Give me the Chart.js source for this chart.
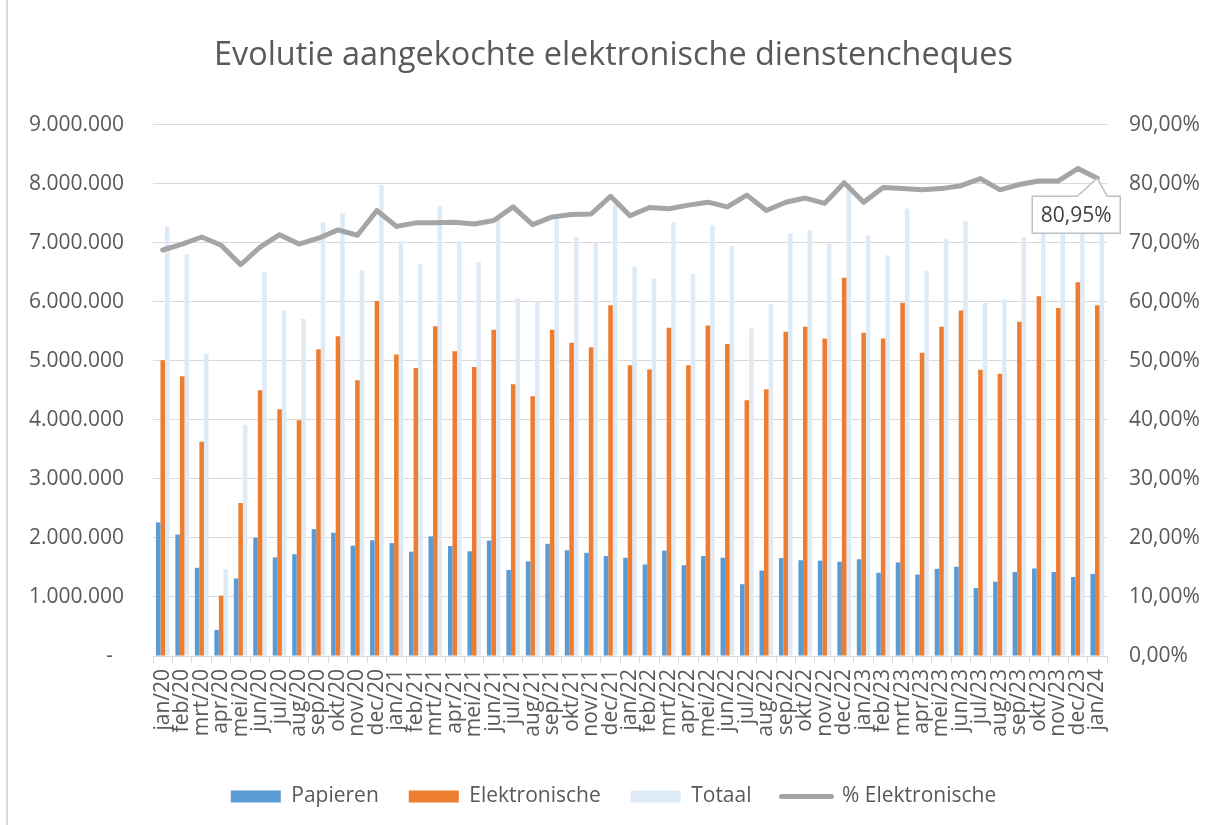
<!DOCTYPE html>
<html>
<head>
<meta charset="utf-8">
<script src="https://cdn.jsdelivr.net/npm/chart.js@4.4.1/dist/chart.umd.min.js"></script>
<style>
    html, body { margin: 0; padding: 0; background: #fff; }
    #wrap { position: relative; width: 1213px; height: 825px; }
    #frame { position: absolute; left: 6px; top: 0; bottom: 0; width: 2px; background: #d9d9d9; }
</style>
</head>
<body>
<div id="wrap">
    <div id="frame"></div>
    <canvas id="chart"></canvas>
</div>
<script>
const months = [
    'jan/20', 'feb/20', 'mrt/20', 'apr/20', 'mei/20', 'jun/20', 'jul/20', 'aug/20', 'sep/20', 'okt/20', 'nov/20', 'dec/20',
    'jan/21', 'feb/21', 'mrt/21', 'apr/21', 'mei/21', 'jun/21', 'jul/21', 'aug/21', 'sep/21', 'okt/21', 'nov/21', 'dec/21',
    'jan/22', 'feb/22', 'mrt/22', 'apr/22', 'mei/22', 'jun/22', 'jul/22', 'aug/22', 'sep/22', 'okt/22', 'nov/22', 'dec/22',
    'jan/23', 'feb/23', 'mrt/23', 'apr/23', 'mei/23', 'jun/23', 'jul/23', 'aug/23', 'sep/23', 'okt/23', 'nov/23', 'dec/23',
    'jan/24'
];

const papieren = [
    2264000, 2058000, 1495000, 442000, 1314000, 2004000, 1671000, 1725000, 2149000, 2088000, 1870000, 1961000,
    1913000, 1768000, 2028000, 1864000, 1774000, 1955000, 1459000, 1604000, 1901000, 1792000, 1749000, 1695000,
    1665000, 1550000, 1786000, 1538000, 1695000, 1665000, 1217000, 1447000, 1659000, 1622000, 1616000, 1598000,
    1640000, 1410000, 1586000, 1380000, 1477000, 1513000, 1150000, 1259000, 1423000, 1483000, 1423000, 1338000,
    1392000
];

const elektronisch = [
    5012000, 4740000, 3632000, 1023000, 2591000, 4504000, 4183000, 3995000, 5200000, 5418000, 4673000, 6017000,
    5109000, 4879000, 5587000, 5163000, 4897000, 5527000, 4607000, 4401000, 5527000, 5309000, 5230000, 5944000,
    4927000, 4855000, 5563000, 4927000, 5599000, 5285000, 4334000, 4522000, 5496000, 5581000, 5381000, 6410000,
    5478000, 5381000, 5987000, 5139000, 5581000, 5854000, 4849000, 4782000, 5666000, 6096000, 5896000, 6332000,
    5944000
];

const totaal = [
    7276000, 6810000, 5120000, 1470000, 3920000, 6510000, 5860000, 5710000, 7350000, 7510000, 6540000, 7980000,
    7028000, 6646000, 7621000, 7028000, 6671000, 7397000, 6059000, 6005000, 7397000, 7101000, 7004000, 7645000,
    6598000, 6398000, 7349000, 6471000, 7300000, 6949000, 5551000, 5963000, 7161000, 7216000, 6992000, 8000000,
    7130000, 6790000, 7585000, 6520000, 7064000, 7367000, 5981000, 6047000, 7095000, 7580000, 7320000, 7670000,
    7340000
];

const pctElektronisch = [
    68.8, 69.8, 71.0, 69.6, 66.3, 69.3, 71.4, 69.8, 70.8, 72.2, 71.3, 75.5,
    72.8, 73.4, 73.4, 73.5, 73.2, 73.8, 76.1, 73.1, 74.4, 74.8, 74.9, 77.9,
    74.6, 76.0, 75.8, 76.4, 76.9, 76.1, 78.1, 75.5, 76.9, 77.6, 76.7, 80.2,
    76.9, 79.4, 79.2, 79.0, 79.2, 79.7, 80.9, 79.0, 79.9, 80.5, 80.5, 82.6,
    80.95
];

const textColor = '#595959';
const gridColor = '#d9d9d9';
const fontFamily = '"Open Sans", "Noto Sans", sans-serif';

function formatThousands(v) {
    if (v === 0) {
        return '-  ';
    }
    return String(v).replace(/\B(?=(\d{3})+(?!\d))/g, '.');
}

function formatPct(v) {
    return v.toFixed(2).replace('.', ',') + '%';
}

// callout with the value of the last point of the % line
const lastLabelPlugin = {
    id: 'lastLabel',
    afterDatasetsDraw(chart) {
        const meta = chart.getDatasetMeta(3);
        const pt = meta.data[meta.data.length - 1];
        if (!pt) {
            return;
        }
        const ctx = chart.ctx;
        const text = formatPct(pctElektronisch[pctElektronisch.length - 1]);
        const bx = pt.x - 65, by = pt.y + 18, bw = 88, bh = 37;
        ctx.save();
        ctx.beginPath();
        ctx.moveTo(bx, by);
        ctx.lineTo(pt.x - 20, by);
        ctx.lineTo(pt.x, pt.y);
        ctx.lineTo(pt.x + 10, by);
        ctx.lineTo(bx + bw, by);
        ctx.lineTo(bx + bw, by + bh);
        ctx.lineTo(bx, by + bh);
        ctx.closePath();
        ctx.fillStyle = '#ffffff';
        ctx.fill();
        ctx.strokeStyle = '#bfbfbf';
        ctx.lineWidth = 1.5;
        ctx.stroke();
        ctx.fillStyle = '#404040';
        ctx.font = '21px ' + fontFamily;
        ctx.textAlign = 'center';
        ctx.textBaseline = 'middle';
        ctx.fillText(text, bx + bw / 2, by + bh / 2 + 1);
        ctx.restore();
    }
};

const ctx = document.getElementById('chart').getContext('2d');
const chart = new Chart(ctx, {
    type: 'bar',
    data: {
        labels: months,
        datasets: [
            {
                label: 'Papieren',
                data: papieren,
                backgroundColor: '#5b9bd5',
                order: 1,
                yAxisID: 'y'
            },
            {
                label: 'Elektronische',
                data: elektronisch,
                backgroundColor: '#ed7d31',
                order: 2,
                yAxisID: 'y'
            },
            {
                label: 'Totaal',
                data: totaal,
                backgroundColor: '#deebf7',
                order: 3,
                yAxisID: 'y'
            },
            {
                type: 'line',
                label: '% Elektronische',
                data: pctElektronisch,
                borderColor: '#a5a5a5',
                backgroundColor: '#a5a5a5',
                borderWidth: 5,
                pointRadius: 0,
                tension: 0,
                borderJoinStyle: 'round',
                borderCapStyle: 'round',
                order: 0,
                yAxisID: 'y1'
            }
        ]
    },
    options: {
        responsive: true,
        maintainAspectRatio: false,
        animation: false,
        layout: {
            padding: { left: 14, right: 0, top: 0, bottom: 8 }
        },
        datasets: {
            bar: {
                categoryPercentage: 0.7,
                barPercentage: 1.0
            }
        },
        scales: {
            x: {
                offset: true,
                grid: {
                    offset: true,
                    drawOnChartArea: false,
                    drawTicks: true,
                    tickLength: 7,
                    color: gridColor
                },
                border: { color: gridColor },
                ticks: {
                    autoSkip: false,
                    maxRotation: 90,
                    minRotation: 90,
                    padding: 6,
                    color: textColor,
                    font: { family: fontFamily, size: 21 }
                },
                afterFit(scale) {
                    scale.height = 100;
                }
            },
            y: {
                position: 'left',
                min: 0,
                max: 9000000,
                ticks: {
                    stepSize: 1000000,
                    padding: 29,
                    color: textColor,
                    font: { family: fontFamily, size: 21 },
                    callback: (value) => formatThousands(value)
                },
                grid: {
                    color: gridColor,
                    drawTicks: false
                },
                border: { display: false },
                afterFit(scale) {
                    scale.width = 139;
                }
            },
            y1: {
                position: 'right',
                min: 0,
                max: 90,
                ticks: {
                    stepSize: 10,
                    padding: 22,
                    color: textColor,
                    font: { family: fontFamily, size: 21 },
                    callback: (value) => formatPct(value)
                },
                grid: {
                    drawOnChartArea: false,
                    drawTicks: false
                },
                border: { display: false },
                afterFit(scale) {
                    scale.width = 106;
                }
            }
        },
        plugins: {
            title: {
                display: true,
                text: 'Evolutie aangekochte elektronische dienstencheques',
                color: textColor,
                font: { family: fontFamily, size: 32.4, weight: 'normal' },
                padding: { top: 36, bottom: 50 }
            },
            legend: {
                display: true,
                position: 'bottom',
                labels: {
                    color: textColor,
                    font: { family: fontFamily, size: 21 },
                    usePointStyle: true,
                    pointStyleWidth: 50,
                    boxHeight: 12,
                    padding: 30,
                    generateLabels(chart) {
                        const items = Chart.defaults.plugins.legend.labels.generateLabels(chart);
                        items.sort((a, b) => a.datasetIndex - b.datasetIndex);
                        return items.map((item) => {
                            const ds = chart.data.datasets[item.datasetIndex];
                            if (ds.type === 'line') {
                                item.pointStyle = 'line';
                                item.lineWidth = 5;
                                item.lineCap = 'round';
                                item.strokeStyle = '#a5a5a5';
                            } else {
                                item.pointStyle = 'rect';
                                item.lineWidth = 0;
                                item.strokeStyle = ds.backgroundColor;
                            }
                            return item;
                        });
                    }
                }
            },
            tooltip: { enabled: false }
        }
    },
    plugins: [lastLabelPlugin]
});
</script>
</body>
</html>
